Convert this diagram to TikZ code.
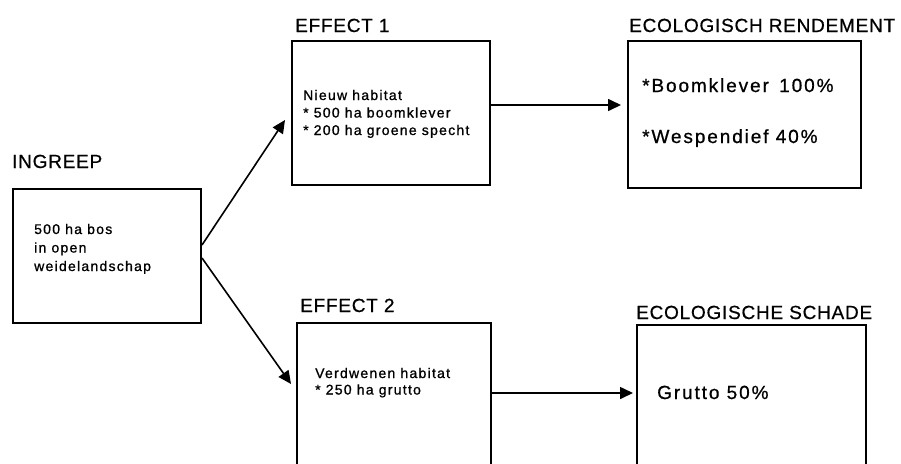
\documentclass[tikz,border=0pt]{standalone}
\usepackage{fontspec}
\setmainfont{Liberation Sans}
\newfontfamily\hdfont[LetterSpace=4,FakeBold=0.6]{Liberation Sans}
\newfontfamily\bxfont[LetterSpace=9,FakeBold=1]{Liberation Sans}
\newfontfamily\bgfont[LetterSpace=10,FakeBold=0.8]{Liberation Sans}
\usetikzlibrary{arrows.meta}
\begin{document}
\begin{tikzpicture}[x=1pt,y=-1pt,
  box/.style={draw,line width=2pt,inner sep=0pt,anchor=north west},
  head/.style={anchor=base west,inner sep=0pt,font=\hdfont\fontsize{19}{19}\selectfont},
  small/.style={anchor=base west,inner sep=0pt,font=\bxfont\fontsize{14}{14}\selectfont},
  big/.style={anchor=base west,inner sep=0pt,font=\bgfont\fontsize{19}{19}\selectfont},
  arr/.style={line width=1.6pt,-{Triangle[length=13pt,width=12pt]}}]
\useasboundingbox (0,0) rectangle (901,463);
\clip (0,0) rectangle (901,463);
% boxes
\node[box,minimum width=188pt,minimum height=134pt] (ing) at (12,188) {};
\node[box,minimum width=198pt,minimum height=144pt] (e1) at (291,40) {};
\node[box,minimum width=233pt,minimum height=147pt] (ren) at (627,40) {};
\node[box,minimum width=194pt,minimum height=160pt] (e2) at (296,322) {};
\node[box,minimum width=229pt,minimum height=160pt] (sch) at (636,324) {};
% headings
\node[head] (hing) at (12,168) {INGREEP};
\node[head] (he1) at (295,32) {EFFECT 1};
\node[head] (hren) at (629,32) {ECOLOGISCH RENDEMENT};
\node[head] (he2) at (300,312) {EFFECT 2};
\node[head] (hsch) at (636,319) {ECOLOGISCHE SCHADE};
% box texts
\node[small] (t1) at (34,234) {500 ha bos};
\node[small] (t2) at (34,252.5) {in open};
\node[small] (t3) at (34,271) {weidelandschap};
\node[small] (t4) at (303,100) {Nieuw habitat};
\node[small] (t5) at (303,117.5) {* 500 ha boomklever};
\node[small] (t6) at (303,135) {* 200 ha groene specht};
\node[small] (t7) at (315,378) {Verdwenen habitat};
\node[small] (t8) at (315,394.5) {* 250 ha grutto};
\node[big] (t9) at (642,92) {*Boomklever\, 100\%};
\node[big] (t10) at (642,143) {*Wespendief 40\%};
\node[big] (t11) at (657,399) {Grutto 50\%};
% connector ends
\coordinate (p1) at (285,120);
\coordinate (p2) at (291,384);
\coordinate (p3) at (621,105);
\coordinate (p4) at (633,393);
\draw[arr] (ing.east |- 0,245) -- (p1);
\draw[arr] (ing.east |- 0,258) -- (p2);
\draw[arr] (e1.east |- p3) -- (p3);
\draw[arr] (e2.east |- p4) -- (p4);
\end{tikzpicture}
\end{document}
